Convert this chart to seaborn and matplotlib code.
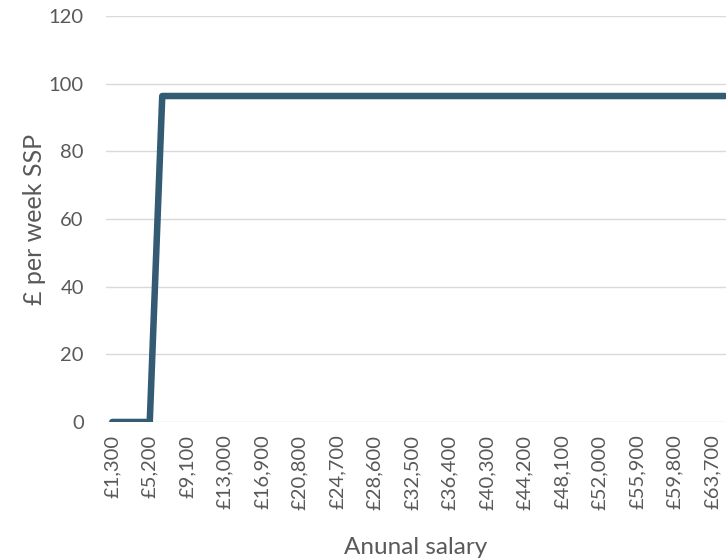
import matplotlib
matplotlib.use("Agg")
import matplotlib.pyplot as plt
import seaborn as sns
import pandas as pd

salaries = [1300, 2600, 3900, 5200, 6500, 7800, 9100, 10400, 11700, 13000,
            14300, 15600, 16900, 18200, 19500, 20800, 22100, 23400, 24700, 26000,
            27300, 28600, 29900, 31200, 32500, 33800, 35100, 36400, 37700, 39000,
            40300, 41600, 42900, 44200, 45500, 46800, 48100, 49400, 50700, 52000,
            53300, 54600, 55900, 57200, 58500, 59800, 61100, 62400, 63700, 65000]
ssp = [0, 0, 0, 0, 96.35, 96.35, 96.35, 96.35, 96.35, 96.35,
       96.35, 96.35, 96.35, 96.35, 96.35, 96.35, 96.35, 96.35, 96.35, 96.35,
       96.35, 96.35, 96.35, 96.35, 96.35, 96.35, 96.35, 96.35, 96.35, 96.35,
       96.35, 96.35, 96.35, 96.35, 96.35, 96.35, 96.35, 96.35, 96.35, 96.35,
       96.35, 96.35, 96.35, 96.35, 96.35, 96.35, 96.35, 96.35, 96.35, 96.35]
y_ticks = [0, 20, 40, 60, 80, 100, 120]

labels = [f"£{s:,}" for s in salaries]
df = pd.DataFrame({"pos": list(range(len(salaries))), "label": labels, "ssp": ssp})

sns.set_theme(style="white")
plt.rcParams["font.family"] = ["Lato", "DejaVu Sans"]

fig = plt.figure(figsize=(7.26, 5.6), dpi=100)
ax = fig.add_axes([106 / 726, 1 - 422 / 560, 1 - 106 / 726, (422 - 16) / 560])

sns.lineplot(data=df, x="pos", y="ssp", ax=ax, color="#335b74", linewidth=4.7,
             solid_joinstyle="round", solid_capstyle="round")

ax.set_xlim(-0.5, 49.1)
ax.set_ylim(0, 120)
ax.set_yticks(y_ticks)
ax.set_yticklabels([str(v) for v in y_ticks])
tick_pos = df["pos"][::3]
ax.set_xticks(tick_pos)
ax.set_xticklabels(df["label"][::3], rotation=90)
ax.tick_params(axis="both", length=0, labelsize=14.5, colors="#595959")
ax.tick_params(axis="x", pad=9)
ax.tick_params(axis="y", pad=16)

ax.yaxis.grid(True, color="#d9d9d9", linewidth=1)
ax.set_axisbelow(True)
for sp in ax.spines.values():
    sp.set_visible(False)

ax.set_xlabel("Anunal salary", fontsize=17.5, color="#595959", labelpad=20)
ax.set_ylabel("£ per week SSP", fontsize=18, color="#595959", labelpad=2)

fig.savefig("out.png", dpi=100)
